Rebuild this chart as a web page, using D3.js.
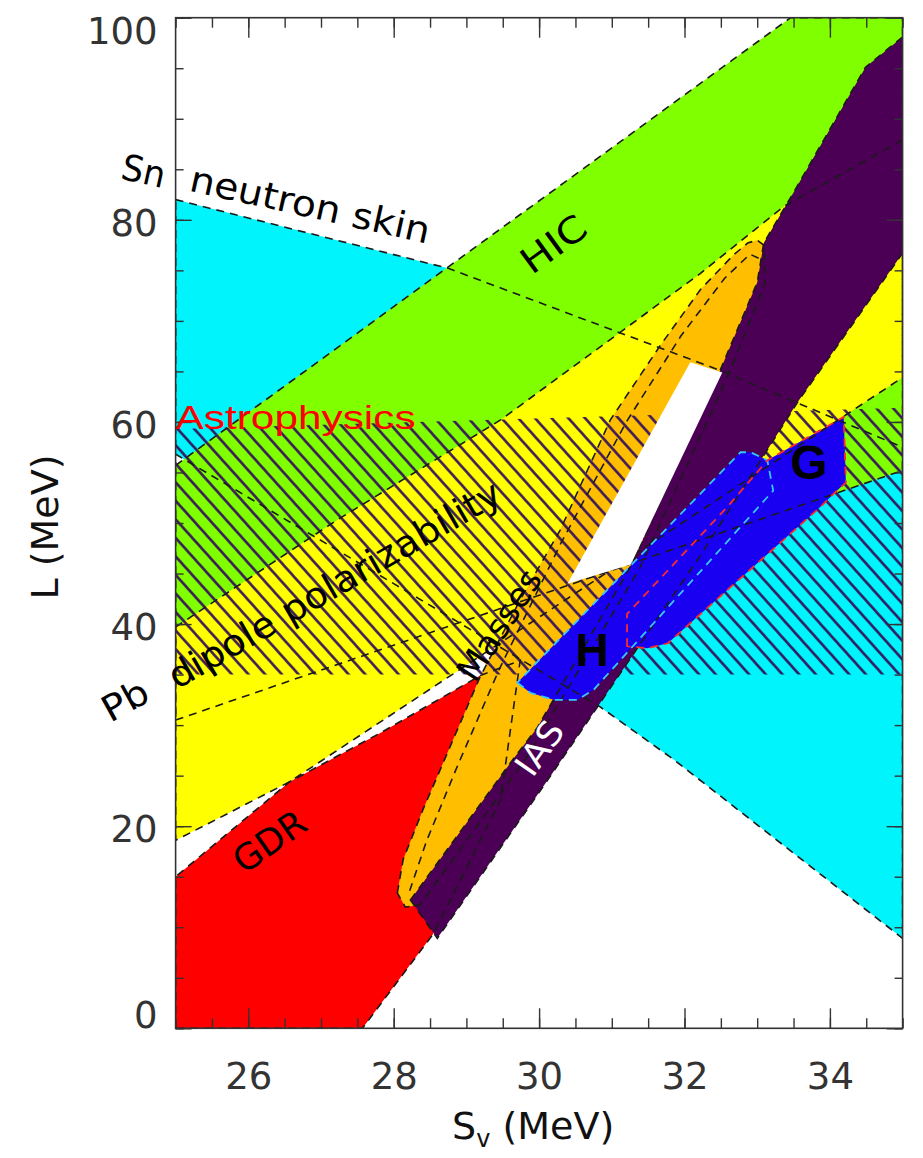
<!DOCTYPE html>
<html>
<head>
<meta charset="utf-8">
<script src="https://cdn.jsdelivr.net/npm/d3@7"></script>
<style>
  body { margin: 0; background: #fff; }
  svg { display: block; }
</style>
</head>
<body>
<div id="chart"></div>
<script>
////////////////////////////////////////////////////////////////////////
// Data: each constraint region is a polygon of [Sv, L] points (MeV)

let svTicks = [26, 28, 30, 32, 34];
let lTicks = [0, 20, 40, 60, 80, 100];

let snSkin = [[25, 82.0], [28.75, 75.2], [32.49, 65.1], [35, 57.5], [35, 8.9],
              [31.85, 26.6], [30.84, 31.8], [28, 44.0], [25, 56.8]];
let hic = [[25, 55.7], [33.46, 100], [35, 100], [35, 55.2], [25, 30.5]];
let pbDipole = [[25, 39.7], [27.2, 50.2], [29.47, 60.2], [32.22, 74.7],
                [33.36, 81.3], [35, 87.9], [35, 64.4], [26.57, 24.4], [25, 18.6]];
let gdr = [[25, 0], [25, 15.0], [26.57, 24.4], [27.81, 29.2], [29.19, 34.9],
           [29.74, 36.4], [29.47, 22.6], [28.54, 9.3], [27.57, 0]];
let masses = [[28.05, 13.4], [28.13, 16.7], [28.40, 21.6], [28.64, 25.6], [29.19, 34.8],
              [29.74, 42.4], [30.29, 49.3], [30.98, 60.2], [31.67, 67.6], [32.22, 73.1],
              [32.67, 76.5], [32.87, 77.7], [33.00, 78.0], [33.09, 77.5], [33.11, 73.8],
              [32.63, 65.1], [31.39, 45.6], [29.81, 26.6], [28.36, 12.2], [28.16, 12.0]];
// inner contour of the masses band (dashed only)
let massesInner = [[28.22, 13.6], [28.45, 18.5], [28.85, 25.5], [29.45, 35.5], [30.3, 48.0],
                   [31.2, 60.0], [31.95, 68.5], [32.55, 74.2], [32.9, 76.6], [33.02, 76.2]];
let ias = [[28.23, 12.7], [29.64, 26.6], [29.97, 29.7], [31.26, 45.7], [32.49, 65.1],
           [33.00, 73.8], [33.09, 77.7], [33.50, 82.7], [34.33, 93.1], [34.49, 95.1],
           [35, 98.1], [35, 76.7], [33.55, 61.9], [32.22, 46.8], [30.84, 32.2],
           [30.15, 24.9], [28.60, 8.9]];
let astro = [[25, 59.3], [35, 61.4], [35, 35.0], [25, 35.0]];
let overlap = [[30.39, 44.0], [31.26, 45.9], [32.52, 64.9], [32.08, 65.9]];
let hebeler = [[29.70, 34.2], [29.88, 33.2], [30.20, 32.5], [30.53, 32.5], [30.75, 33.5],
               [33.22, 53.2], [33.14, 56.2], [32.91, 57.0], [32.77, 57.0]];
let gandolfi = [[31.21, 37.8], [31.21, 41.0], [32.59, 51.6], [33.14, 56.2], [34.19, 60.5],
                [34.22, 54.0], [34.11, 53.3], [33.87, 51.6], [31.77, 38.1], [31.49, 37.6]];

// label anchor (baseline start) in data units, angle in degrees
let labels = [
  {text: "Sn", sv: 24.23, l: 84.1, angle: 12.5, len: 44, size: 36, color: "#000"},
  {text: "neutron skin", sv: 25.17, l: 82.9, angle: 12.5, len: 245, size: 36, color: "#000"},
  {text: "HIC", sv: 29.9, l: 74.5, angle: -36, len: 72, size: 36, color: "#000"},
  {text: "Astrophysics", sv: 25.0, l: 59.3, angle: 0, len: 240, size: 34, color: "#ff0000"},
  {text: "Pb", sv: 24.10, l: 30.2, angle: -29, len: 48, size: 36, color: "#000"},
  {text: "dipole polarizability", sv: 25.02, l: 33.5, angle: -30, len: 378, size: 36, color: "#000"},
  {text: "Masses", sv: 29.12, l: 34.1, angle: -57, len: 125, size: 34, color: "#000"},
  {text: "IAS", sv: 29.91, l: 24.7, angle: -55, len: 58, size: 34, color: "#fff"},
  {text: "GDR", sv: 25.94, l: 15.2, angle: -35, len: 80, size: 36, color: "#000"}
];

////////////////////////////////////////////////////////////////////////
// Setup

let width = 923;
let height = 1158;

let x = d3.scaleLinear().domain([25, 35]).range([175.6, 902.6]);
let y = d3.scaleLinear().domain([0, 100]).range([1028.3, 17.7]);

let svg = d3.select("#chart")
  .append("svg")
  .attr("width", width).attr("height", height);

let defs = svg.append("defs");

defs.append("clipPath").attr("id", "plot-clip")
  .append("rect")
  .attr("x", x(25)).attr("y", y(100))
  .attr("width", x(35) - x(25)).attr("height", y(0) - y(100));

// hatching for the astrophysics band
let hatch = defs.append("pattern")
  .attr("id", "hatch")
  .attr("patternUnits", "userSpaceOnUse")
  .attr("width", 12.4).attr("height", 12.4)
  .attr("patternTransform", "rotate(-42)");
hatch.append("line")
  .attr("x1", 6.2).attr("y1", -2).attr("x2", 6.2).attr("y2", 14.4)
  .attr("stroke", "#35115a").attr("stroke-width", 2.5);

// clip to blue regions, used to show dashed lines inside them
let blueClip = defs.append("clipPath").attr("id", "blue-clip");

let line = d3.line().x(d => x(d[0])).y(d => y(d[1]));
let poly = pts => line(pts) + "Z";

blueClip.append("path").attr("d", poly(hebeler));
blueClip.append("path").attr("d", poly(gandolfi));

let plot = svg.append("g").attr("clip-path", "url(#plot-clip)");

// fills, back to front
let fills = [
  {pts: snSkin, color: "#00f4fc"},
  {pts: hic, color: "#80ff00"},
  {pts: pbDipole, color: "#ffff00"},
  {pts: gdr, color: "#ff0000"},
  {pts: masses, color: "#ffbf00"}
];

plot.append("g")
  .selectAll("path")
  .data(fills)
  .enter()
  .append("path")
  .attr("d", d => poly(d.pts))
  .attr("fill", d => d.color);

plot.append("path")
  .attr("d", poly(astro))
  .attr("fill", "url(#hatch)");

plot.append("path")
  .attr("d", poly(ias))
  .attr("fill", "#4b0055");

// dashed outlines of every band
let outlines = [snSkin, hic, pbDipole, gdr, masses, ias];

function drawOutlines(g) {
  g.selectAll("path.closed")
    .data(outlines)
    .enter()
    .append("path")
    .attr("class", "closed")
    .attr("d", d => poly(d))
    .attr("fill", "none")
    .attr("stroke", "#1a1a1a")
    .attr("stroke-width", 1.6)
    .attr("stroke-dasharray", "8,6");

  g.append("path")
    .attr("d", line(massesInner))
    .attr("fill", "none")
    .attr("stroke", "#1a1a1a")
    .attr("stroke-width", 1.6)
    .attr("stroke-dasharray", "8,6");
}

drawOutlines(plot.append("g"));

// the overlap of all constraints
plot.append("path")
  .attr("d", poly(overlap))
  .attr("fill", "#ffffff");

// neutron matter regions H and G
plot.append("path").attr("d", poly(hebeler)).attr("fill", "#1a00f0");
plot.append("path").attr("d", poly(gandolfi)).attr("fill", "#1a00f0");

drawOutlines(plot.append("g").attr("clip-path", "url(#blue-clip)"));

plot.append("path")
  .attr("d", poly(hebeler))
  .attr("fill", "none")
  .attr("stroke", "#35c8ff")
  .attr("stroke-width", 1.8)
  .attr("stroke-dasharray", "8,6");

plot.append("path")
  .attr("d", poly(gandolfi))
  .attr("fill", "none")
  .attr("stroke", "#ff2a2a")
  .attr("stroke-width", 1.8)
  .attr("stroke-dasharray", "8,6");

////////////////////////////////////////////////////////////////////////
// Axes

let axisFont = "'DejaVu Sans', sans-serif";
let minorSv = d3.range(25, 35.01, 0.5);
let minorL = d3.range(0, 100.1, 5);

function styleAxis(g) {
  g.select(".domain").remove();
  g.attr("color", "#333").attr("font-family", axisFont).attr("font-size", 37);
  g.selectAll("line").attr("stroke-width", 1.4);
}

// bottom
svg.append("g").attr("transform", `translate(0,${y(0)})`)
  .call(d3.axisBottom(x).tickValues(minorSv).tickSize(-10).tickFormat(""))
  .call(styleAxis);
svg.append("g").attr("transform", `translate(0,${y(0)})`)
  .call(d3.axisBottom(x).tickValues(svTicks).tickSize(-20).tickPadding(34).tickFormat(d3.format("d")))
  .call(styleAxis);

// top
svg.append("g").attr("transform", `translate(0,${y(100)})`)
  .call(d3.axisTop(x).tickValues(minorSv).tickSize(-10).tickFormat(""))
  .call(styleAxis);
svg.append("g").attr("transform", `translate(0,${y(100)})`)
  .call(d3.axisTop(x).tickValues(svTicks).tickSize(-20).tickFormat(""))
  .call(styleAxis);

// left
svg.append("g").attr("transform", `translate(${x(25)},0)`)
  .call(d3.axisLeft(y).tickValues(minorL).tickSize(-8).tickFormat(""))
  .call(styleAxis);
let yAxisG = svg.append("g").attr("transform", `translate(${x(25)},0)`)
  .call(d3.axisLeft(y).tickValues(lTicks).tickSize(-16).tickPadding(18).tickFormat(d3.format("d")))
  .call(styleAxis);

// end labels sit inside the frame, like the original
yAxisG.selectAll(".tick text")
  .attr("dy", d => d === 100 ? "0.7em" : d === 0 ? "-0.02em" : "0.42em");

// right
svg.append("g").attr("transform", `translate(${x(35)},0)`)
  .call(d3.axisRight(y).tickValues(minorL).tickSize(-8).tickFormat(""))
  .call(styleAxis);
svg.append("g").attr("transform", `translate(${x(35)},0)`)
  .call(d3.axisRight(y).tickValues(lTicks).tickSize(-16).tickFormat(""))
  .call(styleAxis);

// frame
svg.append("rect")
  .attr("x", x(25)).attr("y", y(100))
  .attr("width", x(35) - x(25)).attr("height", y(0) - y(100))
  .attr("fill", "none")
  .attr("stroke", "#333")
  .attr("stroke-width", 1.6);

// axis titles
let xTitle = svg.append("text")
  .attr("x", 452).attr("y", 1139)
  .attr("font-family", axisFont).attr("font-size", 38)
  .attr("fill", "#111");
xTitle.append("tspan").text("S");
xTitle.append("tspan").attr("font-size", 24).attr("dy", 8).text("v");
xTitle.append("tspan").attr("dy", -8).text(" (MeV)");

svg.append("text")
  .attr("transform", "translate(58,527) rotate(-90)")
  .attr("text-anchor", "middle")
  .attr("font-family", axisFont).attr("font-size", 38)
  .attr("fill", "#111")
  .text("L (MeV)");

////////////////////////////////////////////////////////////////////////
// Region labels

svg.append("g")
  .selectAll("text")
  .data(labels)
  .enter()
  .append("text")
  .attr("transform", d => `translate(${x(d.sv)},${y(d.l)}) rotate(${d.angle})`)
  .attr("font-family", d => d.color === "#ff0000" ? "'Liberation Sans', sans-serif" : axisFont)
  .attr("font-size", d => d.size)
  .attr("fill", d => d.color)
  .attr("textLength", d => d.len)
  .attr("lengthAdjust", "spacingAndGlyphs")
  .text(d => d.text);

// H and G
svg.append("text")
  .attr("x", x(30.73)).attr("y", y(37.4))
  .attr("text-anchor", "middle").attr("dominant-baseline", "central")
  .attr("font-family", "'Liberation Sans', sans-serif").attr("font-weight", "bold")
  .attr("font-size", 46)
  .text("H");

svg.append("text")
  .attr("x", x(33.71)).attr("y", y(56.0))
  .attr("text-anchor", "middle").attr("dominant-baseline", "central")
  .attr("font-family", "'Liberation Sans', sans-serif").attr("font-weight", "bold")
  .attr("font-size", 48)
  .text("G");
</script>
</body>
</html>
